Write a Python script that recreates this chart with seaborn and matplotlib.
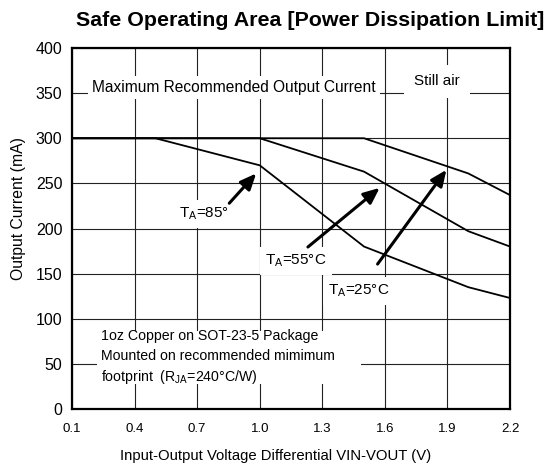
import pandas as pd
import numpy as np
import matplotlib.pyplot as plt
import seaborn as sns
from matplotlib.patches import Rectangle

# Derating curves (Vin-Vout in V, output current in mA)
v_85 = [0.1, 0.5, 1.0, 1.5, 2.0, 2.2]
i_85 = [300, 300, 270, 180, 135, 123]
v_55 = [0.1, 1.0, 1.5, 2.0, 2.2]
i_55 = [300, 300, 263, 197, 180]
v_25 = [0.1, 1.5, 2.0, 2.2]
i_25 = [300, 300, 261, 237]

x_ticks = [0.1, 0.4, 0.7, 1.0, 1.3, 1.6, 1.9, 2.2]
x_tick_labels = ["0.1", "0.4", "0.7", "1.0", "1.3", "1.6", "1.9", "2.2"]
y_ticks = [0, 50, 100, 150, 200, 250, 300, 350, 400]

df = pd.concat([
    pd.DataFrame({"v": v_85, "i": i_85, "ta": "85"}),
    pd.DataFrame({"v": v_55, "i": i_55, "ta": "55"}),
    pd.DataFrame({"v": v_25, "i": i_25, "ta": "25"}),
])

sns.set_theme(style="white")
plt.rcParams['font.family'] = ['Liberation Sans', 'DejaVu Sans']
plt.rcParams['mathtext.fontset'] = 'custom'
plt.rcParams['mathtext.rm'] = 'Liberation Sans'
plt.rcParams['text.color'] = 'black'
plt.rcParams['axes.labelcolor'] = 'black'

fig = plt.figure(figsize=(5.48, 4.65), dpi=100)
ax = fig.add_axes([0.1314, 0.1204, 0.7993, 0.7764])

ax.set_xlim(0.1, 2.2)
ax.set_ylim(0, 400)
ax.set_xticks(x_ticks)
ax.set_xticklabels(x_tick_labels)
ax.set_yticks(y_ticks)
ax.tick_params(axis="x", length=0, labelsize=9.5, colors="black", pad=10)
ax.tick_params(axis="y", length=0, labelsize=11.5, colors="black", pad=7)
ax.grid(True, color="#222222", linewidth=0.8, zorder=0)
ax.set_axisbelow(True)
for s in ax.spines.values():
    s.set_linewidth(1.6)
    s.set_color("black")

sns.lineplot(data=df, x="v", y="i", hue="ta", palette=["black"] * 3,
             legend=False, sort=False, linewidth=1.3, ax=ax, zorder=3)

ax.set_xlabel("Input-Output Voltage Differential VIN-VOUT (V)", fontsize=10.7)
ax.xaxis.set_label_coords(0.464, -0.11)
ax.set_ylabel("Output Current (mA)", fontsize=11.3)
ax.yaxis.set_label_coords(-0.104, 0.555)

# white box hiding grid behind the note
ax.add_patch(Rectangle((0.219, 27.7), 1.265, 58.7, facecolor="white",
                       edgecolor="none", zorder=1))

box = dict(facecolor="white", edgecolor="none", pad=4)
ax.text(0.195, 356, "Maximum Recommended Output Current", fontsize=11.2,
        ha="left", va="center", bbox=dict(facecolor="white", edgecolor="none", pad=3),
        zorder=2)
ax.text(1.85, 363, "Still air", fontsize=11, ha="center", va="center",
        bbox=dict(facecolor="white", edgecolor="none", pad=7), zorder=2)

ax.text(0.735, 216, r"T$_\mathregular{A}$=85°", fontsize=11, ha="center",
        va="center", bbox=box, zorder=2)
ax.text(1.174, 164, r"T$_\mathregular{A}$=55°C", fontsize=11, ha="center",
        va="center", bbox=box, zorder=2)
ax.text(1.475, 131, r"T$_\mathregular{A}$=25°C", fontsize=11, ha="center",
        va="center", bbox=box, zorder=2)

ax.text(0.238, 81, "1oz Copper on SOT-23-5 Package", fontsize=10.2,
        ha="left", va="center", zorder=2)
ax.text(0.238, 58.5, "Mounted on recommended mimimum", fontsize=10.2,
        ha="left", va="center", zorder=2)
ax.text(0.238, 35.5, r"footprint  (R$_\mathregular{JA}$=240°C/W)", fontsize=10.2,
        ha="left", va="center", zorder=2)

arrow = dict(arrowstyle="-|>,head_length=0.8,head_width=0.35", color="black",
             linewidth=2.2, shrinkA=0, shrinkB=0)
ax.annotate("", xy=(0.983, 261), xytext=(0.854, 228), arrowprops=arrow, zorder=4)
ax.annotate("", xy=(1.575, 245), xytext=(1.231, 179.5), arrowprops=arrow, zorder=4)
ax.annotate("", xy=(1.895, 265), xytext=(1.565, 160.6), arrowprops=arrow, zorder=4)

fig.text(310 / 548, 1 - 20 / 465, "Safe Operating Area [Power Dissipation Limit]",
         fontsize=15.4, fontweight="bold", ha="center", va="center", color="black")

fig.savefig("out.png", dpi=100)
